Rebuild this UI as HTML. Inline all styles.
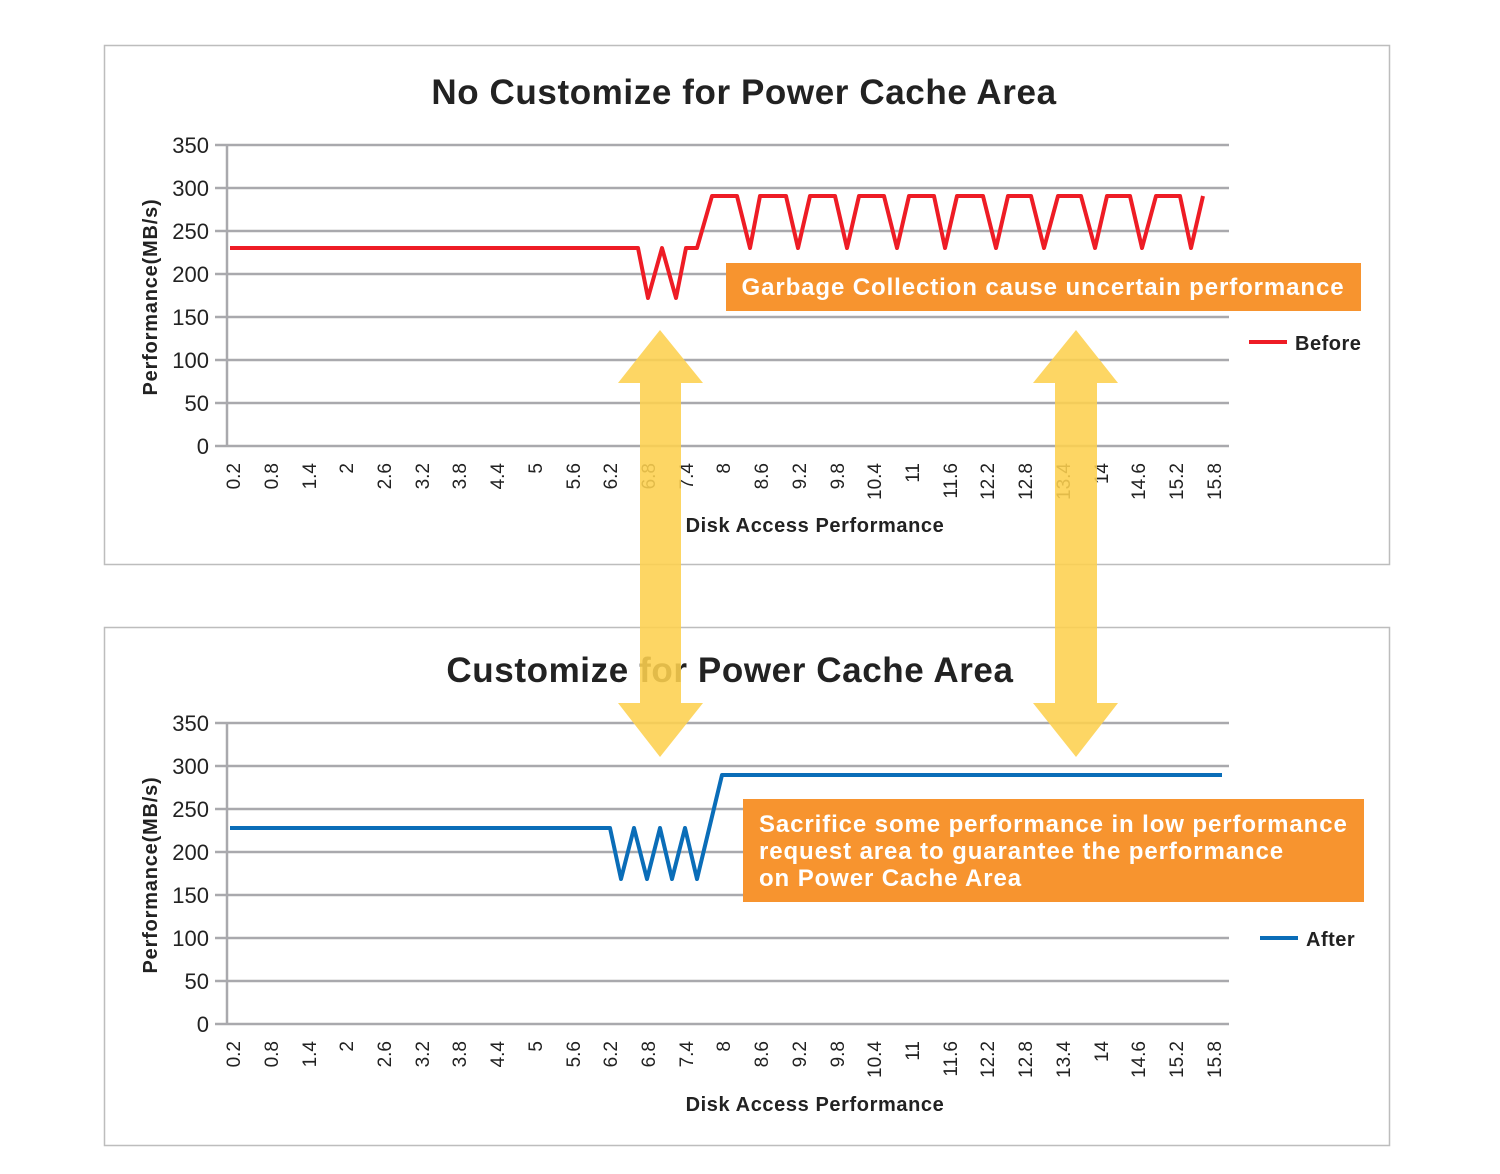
<!DOCTYPE html>
<html><head><meta charset="utf-8"><style>
html,body{margin:0;padding:0;background:#fff;}
svg{display:block;font-family:"Liberation Sans",sans-serif;}
</style></head><body>
<svg width="1500" height="1174" viewBox="0 0 1500 1174" xmlns="http://www.w3.org/2000/svg">
<rect width="1500" height="1174" fill="#fff"/>
<rect x="104.5" y="45.5" width="1285" height="519" fill="none" stroke="#bdbdbd" stroke-width="1.5"/>
<rect x="104.5" y="627.5" width="1285" height="518" fill="none" stroke="#bdbdbd" stroke-width="1.5"/>

<g id="top">
<text x="744" y="104" font-size="35" font-weight="bold" text-anchor="middle" fill="#222" letter-spacing="0.6">No Customize for Power Cache Area</text>
<g stroke="#a9a9ad" stroke-width="2.5">
<line x1="215" y1="145" x2="1229" y2="145"/><line x1="215" y1="188" x2="1229" y2="188"/>
<line x1="215" y1="231" x2="1229" y2="231"/><line x1="215" y1="274" x2="1229" y2="274"/>
<line x1="215" y1="317" x2="1229" y2="317"/><line x1="215" y1="360" x2="1229" y2="360"/>
<line x1="215" y1="403" x2="1229" y2="403"/><line x1="215" y1="446" x2="1229" y2="446"/>
<line x1="227" y1="145" x2="227" y2="446"/>
</g>
<g font-size="22" text-anchor="end" fill="#222">
<text x="209" y="153">350</text><text x="209" y="196">300</text><text x="209" y="239">250</text>
<text x="209" y="282">200</text><text x="209" y="325">150</text><text x="209" y="368">100</text>
<text x="209" y="411">50</text><text x="209" y="454">0</text>
</g>
<text transform="translate(157,297) rotate(-90)" font-size="20" font-weight="bold" text-anchor="middle" fill="#222" letter-spacing="0.8">Performance(MB/s)</text>
<text x="815" y="532" font-size="20" font-weight="bold" text-anchor="middle" fill="#222" letter-spacing="0.6">Disk Access Performance</text>
<polyline fill="none" stroke="#ee1c25" stroke-width="4" stroke-linejoin="round" points="230,248 638,248 648,298 662,248 676,298 686,248 697,248 712,196 737,196 750,248 760,196 786,196 798,248 810,196 835,196 847,248 859,196 884,196 897,248 909,196 934,196 945,248 957,196 983,196 996,248 1008,196 1031,196 1044,248 1058,196 1081,196 1095,248 1107,196 1130,196 1142,248 1156,196 1180,196 1191,248 1203,196"/>
<rect x="726" y="263" width="635" height="48" fill="#f7942f"/>
<text x="1043" y="295" font-size="24" font-weight="bold" text-anchor="middle" fill="#fff" letter-spacing="0.9">Garbage Collection cause uncertain performance</text>
<line x1="1249" y1="342" x2="1287" y2="342" stroke="#ee1c25" stroke-width="4"/>
<text x="1295" y="350" font-size="20" font-weight="bold" fill="#222" letter-spacing="0.5">Before</text>
</g>

<g id="bot">
<text x="730" y="682" font-size="35" font-weight="bold" text-anchor="middle" fill="#222" letter-spacing="0.6">Customize for Power Cache Area</text>
<g stroke="#a9a9ad" stroke-width="2.5">
<line x1="215" y1="723" x2="1229" y2="723"/><line x1="215" y1="766" x2="1229" y2="766"/>
<line x1="215" y1="809" x2="1229" y2="809"/><line x1="215" y1="852" x2="1229" y2="852"/>
<line x1="215" y1="895" x2="1229" y2="895"/><line x1="215" y1="938" x2="1229" y2="938"/>
<line x1="215" y1="981" x2="1229" y2="981"/><line x1="215" y1="1024" x2="1229" y2="1024"/>
<line x1="227" y1="723" x2="227" y2="1024"/>
</g>
<g font-size="22" text-anchor="end" fill="#222">
<text x="209" y="731">350</text><text x="209" y="774">300</text><text x="209" y="817">250</text>
<text x="209" y="860">200</text><text x="209" y="903">150</text><text x="209" y="946">100</text>
<text x="209" y="989">50</text><text x="209" y="1032">0</text>
</g>
<text transform="translate(157,875) rotate(-90)" font-size="20" font-weight="bold" text-anchor="middle" fill="#222" letter-spacing="0.8">Performance(MB/s)</text>
<text x="815" y="1111" font-size="20" font-weight="bold" text-anchor="middle" fill="#222" letter-spacing="0.6">Disk Access Performance</text>
<polyline fill="none" stroke="#0a6db8" stroke-width="4" stroke-linejoin="round" points="230,828 610,828 621,879 634,828 647,879 660,828 672,879 685,828 697,879 722,775 1222,775"/>
<rect x="743" y="799" width="621" height="103" fill="#f7942f"/>
<g font-size="24" font-weight="bold" fill="#fff" letter-spacing="0.9">
<text x="759" y="832">Sacrifice some performance in low performance</text>
<text x="759" y="859">request area to guarantee the performance</text>
<text x="759" y="886">on Power Cache Area</text>
</g>
<line x1="1260" y1="938" x2="1298" y2="938" stroke="#0a6db8" stroke-width="4"/>
<text x="1306" y="946" font-size="20" font-weight="bold" fill="#222" letter-spacing="0.5">After</text>
</g>

<g font-size="19" fill="#222" text-anchor="end">
<text transform="translate(240,463) rotate(-90)">0.2</text>
<text transform="translate(278,463) rotate(-90)">0.8</text>
<text transform="translate(316,463) rotate(-90)">1.4</text>
<text transform="translate(353,463) rotate(-90)">2</text>
<text transform="translate(391,463) rotate(-90)">2.6</text>
<text transform="translate(429,463) rotate(-90)">3.2</text>
<text transform="translate(466,463) rotate(-90)">3.8</text>
<text transform="translate(504,463) rotate(-90)">4.4</text>
<text transform="translate(542,463) rotate(-90)">5</text>
<text transform="translate(580,463) rotate(-90)">5.6</text>
<text transform="translate(617,463) rotate(-90)">6.2</text>
<text transform="translate(655,463) rotate(-90)">6.8</text>
<text transform="translate(693,463) rotate(-90)">7.4</text>
<text transform="translate(730,463) rotate(-90)">8</text>
<text transform="translate(768,463) rotate(-90)">8.6</text>
<text transform="translate(806,463) rotate(-90)">9.2</text>
<text transform="translate(844,463) rotate(-90)">9.8</text>
<text transform="translate(881,463) rotate(-90)">10.4</text>
<text transform="translate(919,463) rotate(-90)">11</text>
<text transform="translate(957,463) rotate(-90)">11.6</text>
<text transform="translate(994,463) rotate(-90)">12.2</text>
<text transform="translate(1032,463) rotate(-90)">12.8</text>
<text transform="translate(1070,463) rotate(-90)">13.4</text>
<text transform="translate(1108,463) rotate(-90)">14</text>
<text transform="translate(1145,463) rotate(-90)">14.6</text>
<text transform="translate(1183,463) rotate(-90)">15.2</text>
<text transform="translate(1221,463) rotate(-90)">15.8</text>
</g>
<g font-size="19" fill="#222" text-anchor="end">
<text transform="translate(240,1041) rotate(-90)">0.2</text>
<text transform="translate(278,1041) rotate(-90)">0.8</text>
<text transform="translate(316,1041) rotate(-90)">1.4</text>
<text transform="translate(353,1041) rotate(-90)">2</text>
<text transform="translate(391,1041) rotate(-90)">2.6</text>
<text transform="translate(429,1041) rotate(-90)">3.2</text>
<text transform="translate(466,1041) rotate(-90)">3.8</text>
<text transform="translate(504,1041) rotate(-90)">4.4</text>
<text transform="translate(542,1041) rotate(-90)">5</text>
<text transform="translate(580,1041) rotate(-90)">5.6</text>
<text transform="translate(617,1041) rotate(-90)">6.2</text>
<text transform="translate(655,1041) rotate(-90)">6.8</text>
<text transform="translate(693,1041) rotate(-90)">7.4</text>
<text transform="translate(730,1041) rotate(-90)">8</text>
<text transform="translate(768,1041) rotate(-90)">8.6</text>
<text transform="translate(806,1041) rotate(-90)">9.2</text>
<text transform="translate(844,1041) rotate(-90)">9.8</text>
<text transform="translate(881,1041) rotate(-90)">10.4</text>
<text transform="translate(919,1041) rotate(-90)">11</text>
<text transform="translate(957,1041) rotate(-90)">11.6</text>
<text transform="translate(994,1041) rotate(-90)">12.2</text>
<text transform="translate(1032,1041) rotate(-90)">12.8</text>
<text transform="translate(1070,1041) rotate(-90)">13.4</text>
<text transform="translate(1108,1041) rotate(-90)">14</text>
<text transform="translate(1145,1041) rotate(-90)">14.6</text>
<text transform="translate(1183,1041) rotate(-90)">15.2</text>
<text transform="translate(1221,1041) rotate(-90)">15.8</text>
</g>

<g fill="#fdd04f" fill-opacity="0.88">
<polygon points="660,330 703,383 681,383 681,703 703,703 660,757 618,703 640,703 640,383 618,383"/>
<polygon points="1076,330 1118,383 1097,383 1097,703 1118,703 1076,757 1033,703 1055,703 1055,383 1033,383"/>
</g>
</svg>
</body></html>
